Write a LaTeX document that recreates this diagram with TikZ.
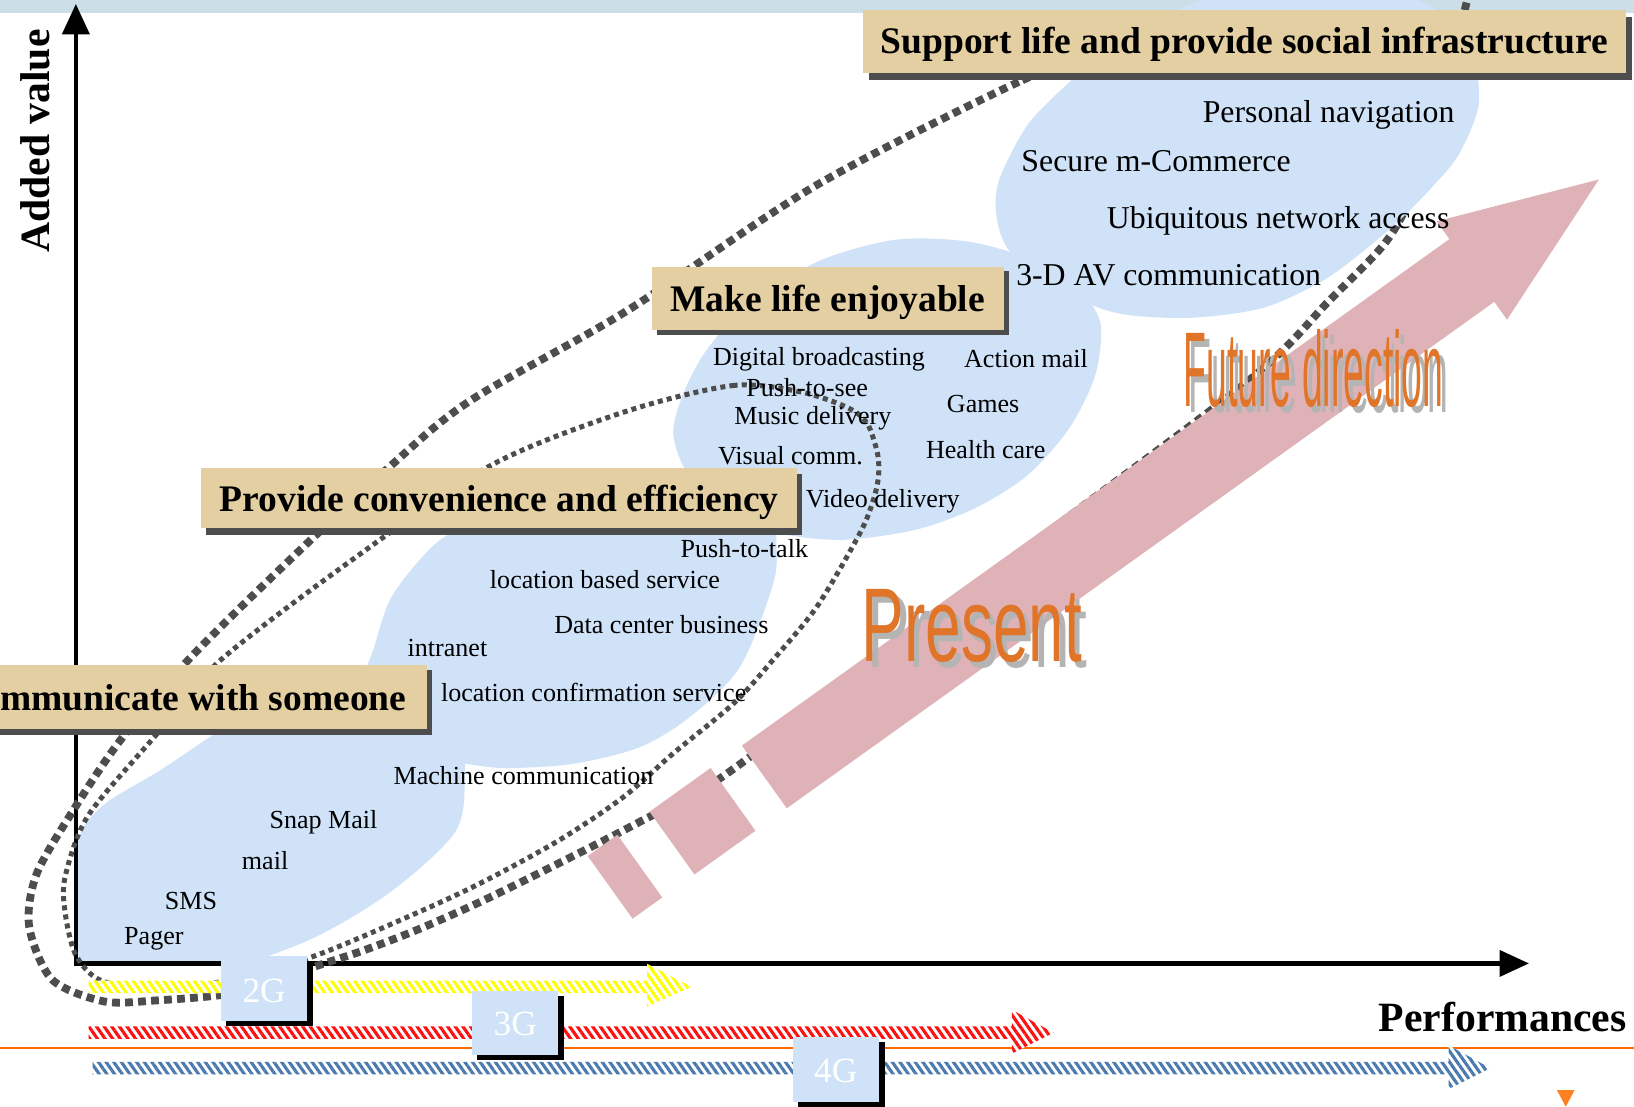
\documentclass[tikz,border=0pt]{standalone}
\usepackage{fontspec}
\setmainfont{Liberation Serif}
\newfontfamily\artfont{Liberation Sans}
\usetikzlibrary{patterns.meta,shadows}
\newcommand\setfs[1]{\fontsize{#1}{#1}\selectfont}
% word with a grey offset copy behind it
\newcommand\shadedword[4]{{\artfont\setfs{#2}\rlap{\hspace*{5pt}\raisebox{-6pt}{\textcolor{artshadow}{\scalebox{#1}[1]{#3}}}}\textcolor{artorange}{\scalebox{#1}[1]{#3}}}}

\definecolor{band}{HTML}{CCDEE8}
\definecolor{blobblue}{HTML}{CFE2F8}
\definecolor{parch}{HTML}{E4CFA2}
\definecolor{boxshadow}{HTML}{4D4D4D}
\definecolor{pinkarrow}{HTML}{DEB2B6}
\definecolor{loopgray}{HTML}{4D4D4D}
\definecolor{artorange}{HTML}{E07428}
\definecolor{artshadow}{HTML}{B4B4B4}
\definecolor{genyellow}{HTML}{FFFF00}
\definecolor{genred}{HTML}{FF1010}
\definecolor{genblue}{HTML}{4A7AAE}
\definecolor{rulecol}{HTML}{FF6A00}
\definecolor{marker}{HTML}{FF8020}

\begin{document}
\begin{tikzpicture}[x=1pt,y=-1pt,
  blob/.style={fill=blobblue},
  titlebox/.style={fill=parch, inner sep=0pt, minimum width=#1},
  shadowed/.style 2 args={drop shadow={shadow xshift=#1, shadow yshift=#2, opacity=1, fill=boxshadow}},
  title/.style={font={\setfs{36}\bfseries}, anchor=base, inner sep=0pt},
  item/.style={font={\setfs{25}}, anchor=base west, inner sep=0pt},
  bigitem/.style={font={\setfs{30.5}}, anchor=base west, inner sep=0pt},
  axislabel/.style={font={\setfs{40}\bfseries}, inner sep=0pt},
  bigloop/.style={draw=loopgray, line width=7.5pt, dash pattern=on 7.5pt off 5pt},
  smallloop/.style={draw=loopgray, line width=4.8pt, dash pattern=on 4.8pt off 4pt},
  axisline/.style={line width=4.2pt, line join=miter},
  genbox/.style={fill=blobblue, inner sep=0pt, minimum width=83pt, minimum height=62pt,
                 drop shadow={shadow xshift=5pt, shadow yshift=-5pt, opacity=1, fill=black}},
  gentag/.style={font={\setfs{34}}, text=white, anchor=base, inner sep=0pt},
  genbar/.style={preaction={fill=white}, pattern={Lines[angle=-55, distance=6pt, line width=3pt]}, pattern color=#1},
  arttext/.style={anchor=base west, inner sep=0pt},
]
\useasboundingbox (0,0) rectangle (1568,1062);
\begin{scope}
\clip (0,0) rectangle (1568,1062);
\fill[white] (0,0) rectangle (1568,1062);
\fill[band] (0,0) rectangle (1568,12.4);

% service clouds
\begin{scope}
  \clip (73,0) rectangle (1568,924);
  \fill[blob] plot[smooth cycle] coordinates {(60,880) (75,805) (100,772) (154,739) (230,690) (320,652) (400,642) (440,680) (446,745) (437,798) (376,855) (301,900) (216,930) (125,942) (70,930)};
\end{scope}
\fill[blob] plot[smooth cycle] coordinates {(330,705) (348,650) (358,624) (374,576) (403,537) (432,512) (500,485) (600,465) (700,455) (740,480) (745,520) (742,560) (710,640) (662,688) (614,717) (550,733) (486,737) (448,733) (390,722)};
\fill[blob] plot[smooth cycle] coordinates {(646,416) (656,377) (678,336) (720,290) (787,250) (860,230) (930,232) (992,250) (1035,278) (1056,310) (1051,360) (1026,411) (986,456) (937,487) (880,508) (810,518) (750,512) (695,490) (660,455)};

% axes
\coordinate (origin) at (72.8,924.5);
\coordinate (ytop) at (72.8,32);
\coordinate (ytip) at (72.8,4);
\coordinate (xend) at (1440,924.5);
\coordinate (xtip) at (1467,924.5);
\draw[axisline] (xend) -- (origin) -- (ytop);
\fill (ytip) -- ++(13.5,29) -- ++(-27,0) -- cycle;
\fill (xtip) -- ++(-28,-13) -- ++(0,26) -- cycle;

% dotted groupings
\draw[smallloop] plot[smooth cycle] coordinates {(600,395) (703,370) (768,376) (813,391) (832,406) (842,435) (843,457) (838,480) (825,512) (784,582) (742,633) (704,675) (646,723) (598,765) (537,806) (464,846) (400,876) (300,918) (212,942) (140,948) (95,940) (72,915) (62,872) (63,839) (85,782) (150,705) (211,634) (341,535) (472,446)};
\draw[bigloop] plot[smooth cycle] coordinates {(783,178) (981,77) (1100,32) (1220,-20) (1330,-45) (1405,-20) (1400,30) (1380,110) (1358,180) (1330,232) (1276,288) (1196,367) (950,552) (698,742) (617,787) (537,828) (464,864) (401,892) (349,912) (298,929) (255,946) (211,955) (150,960) (100,961) (50,940) (28,889) (35,839) (70,778) (115,711) (180,634) (271,544) (376,446) (452,384) (602,298)};

\fill[blob] plot[smooth cycle] coordinates {(956,206) (959,172) (986,120) (1026,79) (1075,38) (1140,5) (1220,-18) (1310,-15) (1380,10) (1412,50) (1419,100) (1400,148) (1372,182) (1340,214) (1302,246) (1265,272) (1210,296) (1140,305) (1070,300) (1010,275) (968,240)};

% direction arrow, broken at its tail
\begin{scope}[shift={(585.5,851.5)}, rotate=35.6]
  \fill[pinkarrow] (0,-37) rectangle (35,37);
  \fill[pinkarrow] (73,-37) rectangle (145,37);
  \fill[pinkarrow] (182,-37) -- (1017,-37) -- (1017,-58) -- (1167,0) -- (1017,58) -- (1017,37) -- (182,37) -- cycle;
\end{scope}

% generation bars
\coordinate (ruleL) at (0,1006);
\coordinate (ruleR) at (1568,1006);
\draw[rulecol, line width=2pt] (ruleL) -- (ruleR);
\path[genbar=genyellow] (85,941) -- (621,941) -- (621,925) -- (663.6,947) -- (621,966) -- (621,953) -- (85,953) -- cycle;
\path[genbar=genred] (85,985) -- (971,985) -- (971,969) -- (1011,991) -- (971,1011) -- (971,997) -- (85,997) -- cycle;
\path[genbar=genblue] (89,1019) -- (1390,1019) -- (1390,1003) -- (1430,1025) -- (1390,1045) -- (1390,1031) -- (89,1031) -- cycle;

\node[genbox] (g2box) at (253.5,948.5) {};
\node[genbox, minimum height=61pt] (g3box) at (494.3,981.4) {};
\node[genbox] (g4box) at (802.3,1026) {};
\node[gentag] (g2) at (253.5,962) {2G};
\node[gentag] (g3) at (494.5,994) {3G};
\node[gentag] (g4) at (802,1039) {4G};

% stage titles
\node[titlebox=732pt, minimum height=60.4pt, shadowed={6pt}{-7pt}] (supbox) at (1194,39.8) {};
\node[titlebox=337.6pt, minimum height=61.3pt, shadowed={5pt}{-4pt}] (makebox) at (794.2,286.4) {};
\node[titlebox=572pt, minimum height=58pt, shadowed={5pt}{-6pt}] (provbox) at (479,478) {};
\node[titlebox=474pt, minimum height=62pt, shadowed={5pt}{-5pt}] (commbox) at (173,669) {};
\node[title] (suptext) at (1194,51.5) {Support life and provide social infrastructure};
\node[title] (maketext) at (794.2,299) {Make life enjoyable};
\node[title] (provtext) at (479,491) {Provide convenience and efficiency};
\node[title] (commtext) at (173,681.5) {Communicate with someone};

% services
\node[bigitem] (nav) at (1154,118) {Personal navigation};
\node[bigitem] (mcom) at (980,164.5) {Secure m-Commerce};
\node[bigitem] (ubiq) at (1062,219.5) {Ubiquitous network access};
\node[bigitem] (av3d) at (975,274) {3-D AV communication};
\node[item] (digb) at (684,350.3) {Digital broadcasting};
\node[item] (amail) at (925,353) {Action mail};
\node[item] (pts) at (716,380.7) {Push-to-see};
\node[item] (music) at (704.5,407) {Music delivery};
\node[item] (games) at (908.5,396) {Games};
\node[item] (visual) at (689,445.3) {Visual comm.};
\node[item] (health) at (888.5,439.7) {Health care};
\node[item] (video) at (773,487) {Video delivery};
\node[item] (ptt) at (653,535) {Push-to-talk};
\node[item] (lbs) at (470,564.5) {location based service};
\node[item] (dcb) at (531.7,607.8) {Data center business};
\node[item] (intra) at (391,629.8) {intranet};
\node[item] (lcs) at (423,673) {location confirmation service};
\node[item] (mach) at (377.5,752.6) {Machine communication};
\node[item] (snap) at (258.5,795.5) {Snap Mail};
\node[item] (mail) at (232,834) {mail};
\node[item] (sms) at (158,872.6) {SMS};
\node[item] (pager) at (119,906) {Pager};

% axis labels
\node[axislabel, rotate=90, anchor=base] (ylabel) at (47.5,135.4) {Added value};
\node[axislabel, anchor=base west] (xlabel) at (1323,989.5) {Performances};

% headline words on the arrow
\node[arttext] (future) at (1135.5,390) {\shadedword{0.352}{102}{Future direction}{}};
\node[arttext] (present) at (826.8,634.4) {\shadedword{0.61}{100.6}{Present}{}};

% page marker
\fill[marker] (1494,1046) -- (1511,1046) -- (1502.5,1062) -- cycle;
\end{scope}
\end{tikzpicture}
\end{document}
